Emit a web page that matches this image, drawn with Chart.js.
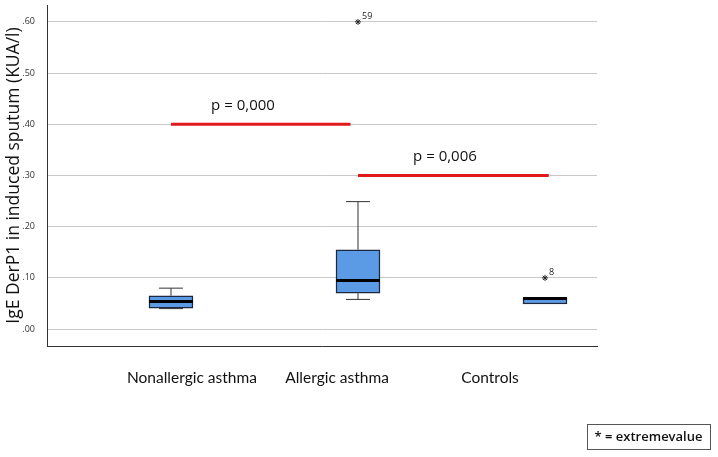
<!DOCTYPE html>
<html>
<head>
<meta charset="utf-8">
<script src="https://cdn.jsdelivr.net/npm/chart.js@4.4.1/dist/chart.umd.min.js"></script>
<style>
  html, body { margin: 0; padding: 0; background: #fff; }
  #wrap { width: 718px; height: 457px; }
</style>
</head>
<body>
<div id="wrap"><canvas id="boxChart"></canvas></div>
<script>
// groups and box statistics
const groups = ['Nonallergic asthma', 'Allergic asthma', 'Controls'];
const whiskerLow = [0.040, 0.058, 0.050];
const q1 = [0.041, 0.070, 0.049];
const median = [0.054, 0.095, 0.060];
const q3 = [0.065, 0.155, 0.060];
const whiskerHigh = [0.080, 0.249, 0.060];

// extreme values
const outlierGroup = [2, 3];
const outlierValue = [0.60, 0.10];
const outlierCase = ['59', '8'];

// significance bars
const sigFrom = [1, 2];
const sigTo = [1.96, 3.02];
const sigValue = [0.40, 0.30];
const sigText = ['p = 0,000', 'p = 0,006'];

const yTicks = [0, 0.1, 0.2, 0.3, 0.4, 0.5, 0.6];

// layout bits (not data)
const groupLabelX = [1.112, 1.888, 2.706];
const sigLabelX = [1.385, 2.465];
const FONT = '"Open Sans", Lato, sans-serif';

const boxPlugin = {
  id: 'boxParts',
  beforeDatasetsDraw(chart) {
    const { ctx, scales: { x, y } } = chart;
    ctx.save();
    ctx.strokeStyle = '#333';
    ctx.lineWidth = 1;
    groups.forEach((g, i) => {
      const cx = x.getPixelForValue(i + 1);
      const cap = 12;
      [[whiskerLow[i], q1[i]], [q3[i], whiskerHigh[i]]].forEach(([a, b]) => {
        if (a === b) return;
        ctx.beginPath();
        ctx.moveTo(cx, y.getPixelForValue(a));
        ctx.lineTo(cx, y.getPixelForValue(b));
        ctx.stroke();
      });
      [whiskerLow[i], whiskerHigh[i]].forEach(v => {
        ctx.beginPath();
        ctx.moveTo(cx - cap, y.getPixelForValue(v));
        ctx.lineTo(cx + cap, y.getPixelForValue(v));
        ctx.stroke();
      });
    });
    ctx.restore();
  },
  afterDatasetsDraw(chart) {
    const { ctx, scales: { x, y } } = chart;
    ctx.save();
    // medians
    ctx.strokeStyle = '#000';
    ctx.lineWidth = 3;
    groups.forEach((g, i) => {
      const cx = x.getPixelForValue(i + 1);
      const py = y.getPixelForValue(median[i]);
      ctx.beginPath();
      ctx.moveTo(cx - 22, py);
      ctx.lineTo(cx + 22, py);
      ctx.stroke();
    });
    // outlier case numbers
    ctx.fillStyle = '#222';
    ctx.font = '9px ' + FONT;
    ctx.textAlign = 'left';
    ctx.textBaseline = 'bottom';
    outlierCase.forEach((c, i) => {
      ctx.fillText(c, x.getPixelForValue(outlierGroup[i]) + 4, y.getPixelForValue(outlierValue[i]) - 1);
    });
    // significance labels
    ctx.fillStyle = '#111';
    ctx.font = '15px ' + FONT;
    ctx.textAlign = 'center';
    ctx.textBaseline = 'middle';
    sigText.forEach((t, i) => {
      ctx.fillText(t, x.getPixelForValue(sigLabelX[i]), y.getPixelForValue(sigValue[i]) - 19);
    });
    // group labels
    ctx.font = '15.5px Lato, sans-serif';
    groups.forEach((g, i) => {
      ctx.fillText(g, x.getPixelForValue(groupLabelX[i]), 378);
    });
    // legend box
    ctx.strokeStyle = '#555';
    ctx.lineWidth = 1;
    ctx.strokeRect(587.5, 424.5, 123, 25);
    ctx.font = '600 13px ' + FONT;
    ctx.fillStyle = '#111';
    ctx.fillText('* = extremevalue', 648.5, 437.5);
    ctx.restore();
  }
};

new Chart(document.getElementById('boxChart'), {
  type: 'bar',
  data: {
    datasets: [
      {
        type: 'bar',
        data: groups.map((g, i) => ({ x: i + 1, y: [q1[i], q3[i]] })),
        backgroundColor: '#5b9be6',
        borderColor: '#1c2840',
        borderWidth: 1.5,
        borderSkipped: false,
        barThickness: 44,
        order: 2
      },
      {
        type: 'scatter',
        data: outlierValue.map((v, i) => ({ x: outlierGroup[i], y: v })),
        pointStyle: 'star',
        radius: 3,
        borderColor: '#222',
        borderWidth: 1,
        order: 1
      },
      ...sigText.map((t, i) => ({
        type: 'line',
        data: [{ x: sigFrom[i], y: sigValue[i] }, { x: sigTo[i], y: sigValue[i] }],
        borderColor: '#e01a1a',
        borderWidth: 3,
        pointRadius: 0,
        order: 0
      }))
    ]
  },
  plugins: [boxPlugin],
  options: {
    responsive: true,
    maintainAspectRatio: false,
    animation: false,
    layout: { padding: { top: 3, right: 121, left: 0, bottom: 0 } },
    plugins: { legend: { display: false }, tooltip: { enabled: false } },
    scales: {
      x: {
        type: 'linear',
        offset: false,
        min: 0.337,
        max: 3.278,
        grid: { display: false },
        border: { display: true, color: '#333', width: 1 },
        ticks: { display: false },
        afterFit: (s) => { s.height = 111; s.paddingLeft = 0; s.paddingRight = 0; }
      },
      y: {
        min: -0.033,
        max: 0.633,
        afterBuildTicks: (s) => { s.ticks = yTicks.map(v => ({ value: v })); },
        grid: { color: '#c8c8c8', drawTicks: false },
        border: { display: true, color: '#333', width: 1 },
        ticks: {
          padding: 12,
          color: '#333',
          font: { size: 9, family: FONT },
          callback: (v) => v.toFixed(2).replace(/^0/, '')
        },
        title: {
          display: true,
          text: 'IgE DerP1 in induced sputum (KUA/l)',
          color: '#111',
          font: { size: 17.5, family: FONT },
          padding: { top: 4, bottom: 0 }
        },
        afterFit: (s) => { s.width = 47; s.paddingTop = 0; s.paddingBottom = 0; }
      }
    }
  }
});
</script>
</body>
</html>
